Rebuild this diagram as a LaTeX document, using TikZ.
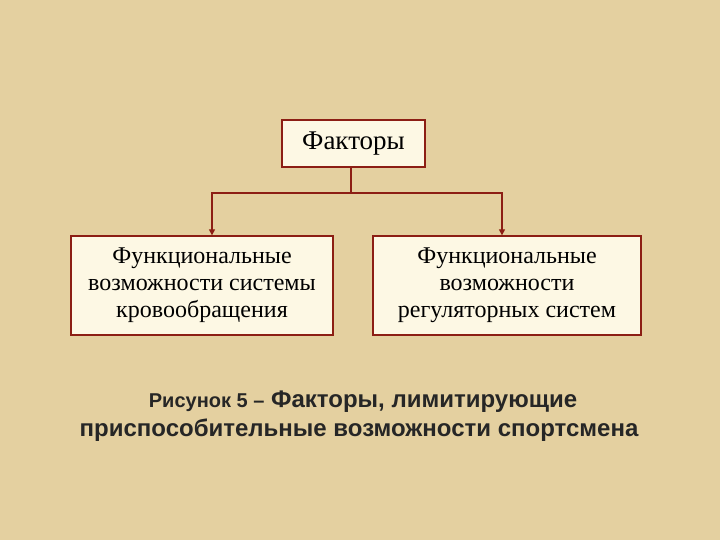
\documentclass[tikz,border=0pt]{standalone}
\usepackage{fontspec}
\setmainfont{Liberation Serif}
\newfontfamily\capfont{Liberation Sans}
\usetikzlibrary{arrows.meta}
\definecolor{bg}{RGB}{228,208,160}
\definecolor{boxfill}{RGB}{253,248,228}
\definecolor{edge}{RGB}{140,30,20}
\begin{document}
\begin{tikzpicture}[x=1pt,y=-1pt,
  box/.style={draw=edge,line width=1.3pt,fill=boxfill,align=center,font=\fontsize{24}{27}\selectfont,inner sep=0pt},
  conn/.style={draw=edge,line width=1.3pt}]
\fill[bg] (0,0) rectangle (720,540);
\useasboundingbox (0,0) rectangle (720,540);
\node[box,minimum width=143pt,minimum height=47pt,font=\fontsize{27}{30}\selectfont] (top) at (353.5,143.5) {Факторы};
\node[box,minimum width=262pt,minimum height=99pt] (l) at (202,285.5) {Функциональные\\возможности системы\\кровообращения};
\node[box,minimum width=268pt,minimum height=99pt] (r) at (507,285.5) {Функциональные\\возможности\\регуляторных систем};
\coordinate (j) at (351,193);
\draw[conn] (top.south -| j) -- (j);
\draw[conn,-{Triangle[length=6pt,width=6pt]}] (j) -- (212,193) -- (l.north -| 212,0);
\draw[conn,-{Triangle[length=6pt,width=6pt]}] (j) -- (502,193) -- (r.north -| 502,0);
\node[font=\capfont\bfseries,text=black!85,anchor=base] (cap1) at (363,407) {{\fontsize{20}{24}\selectfont Рисунок 5 –\,\,}{\fontsize{24}{28}\selectfont Факторы, лимитирующие}};
\node[font=\capfont\bfseries\fontsize{24}{28}\selectfont,text=black!85,anchor=base] (cap2) at (359,436) {приспособительные возможности спортсмена};
\end{tikzpicture}
\end{document}
